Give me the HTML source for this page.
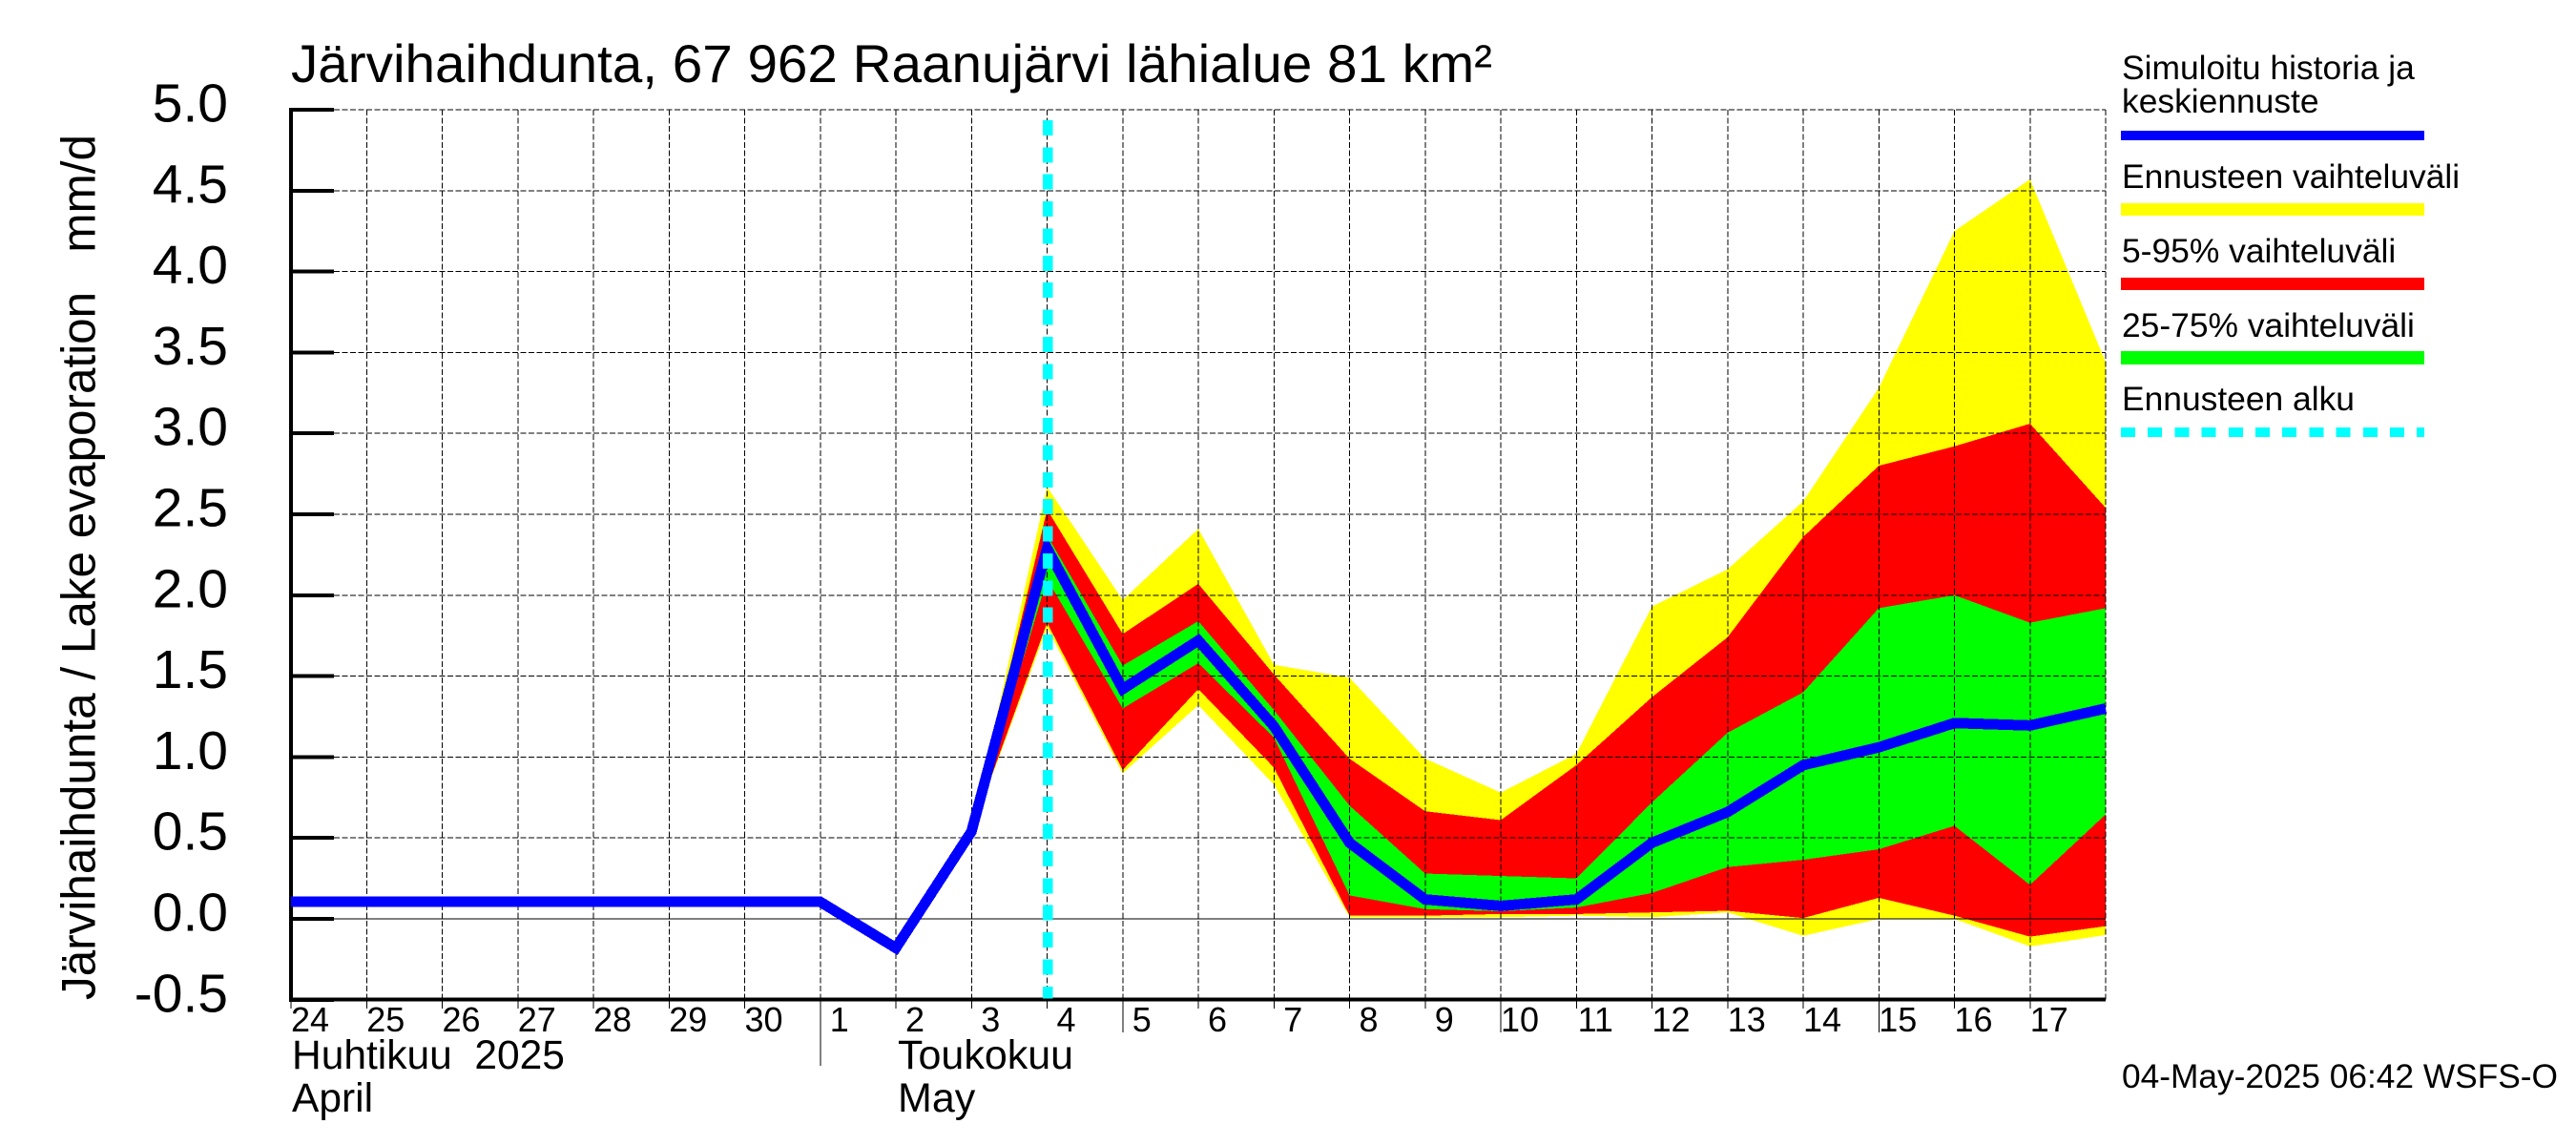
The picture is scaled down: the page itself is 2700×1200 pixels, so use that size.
<!DOCTYPE html>
<html lang="fi">
<head>
<meta charset="utf-8">
<title>Järvihaihdunta</title>
<style>
html,body{margin:0;padding:0;background:#fff;}
svg{display:block;}
text{font-family:"Liberation Sans",sans-serif;fill:#000;}
line,polygon,polyline{shape-rendering:crispEdges;}
</style>
</head>
<body>
<svg id="chart" xmlns="http://www.w3.org/2000/svg" width="2700" height="1200" viewBox="0 0 2700 1200">
<rect width="2700" height="1200" fill="#fff"/>
<text x="305" y="86" font-size="56" textLength="1259" lengthAdjust="spacingAndGlyphs">Järvihaihdunta, 67 962 Raanujärvi lähialue 81 km²</text>
<text transform="translate(99.5,1048) rotate(-90)" font-size="50" textLength="907" lengthAdjust="spacingAndGlyphs" xml:space="preserve">Järvihaihdunta / Lake evaporation   mm/d</text>
<g id="bands"></g>
<g id="grid"></g>
<g id="axes"></g>
<g id="series"></g>
<text x="306" y="1120" font-size="42.5" xml:space="preserve">Huhtikuu  2025</text>
<text x="306" y="1165" font-size="42.5">April</text>
<text x="941" y="1120" font-size="43">Toukokuu</text>
<text x="941" y="1165" font-size="43">May</text>
<g>
<text x="2224" y="83" font-size="35.4">Simuloitu historia ja</text>
<text x="2224" y="118" font-size="35.4">keskiennuste</text>
<rect x="2223" y="137" width="318" height="10" fill="#0000ff"/>
<text x="2224" y="197" font-size="35.4">Ennusteen vaihteluväli</text>
<rect x="2223" y="213" width="318" height="13" fill="#ffff00"/>
<text x="2224" y="275" font-size="35.4">5-95% vaihteluväli</text>
<rect x="2223" y="291" width="318" height="13" fill="#ff0000"/>
<text x="2224" y="353" font-size="35.4">25-75% vaihteluväli</text>
<rect x="2223" y="368" width="318" height="14" fill="#00ff00"/>
<text x="2224" y="430" font-size="35.4">Ennusteen alku</text>
<line x1="2223" y1="453" x2="2541" y2="453" stroke="#00ffff" stroke-width="10" stroke-dasharray="15 13.2"/>
</g>
<text x="2224" y="1140" font-size="35" textLength="457" lengthAdjust="spacingAndGlyphs">04-May-2025 06:42 WSFS-O</text>
</svg>
<script>
// Data (mm/d). Index 0 = 24 April, one entry per day.
const dayLabels = ["24","25","26","27","28","29","30","1","2","3","4","5","6","7","8","9","10","11","12","13","14","15","16","17"];
const yTicks = ["5.0","4.5","4.0","3.5","3.0","2.5","2.0","1.5","1.0","0.5","0.0","-0.5"];
const simulated = [0.105,0.105,0.105,0.105,0.105,0.105,0.105,0.105,-0.18,0.54,2.29,1.42,1.72,1.19,0.47,0.12,0.08,0.12,0.47,0.66,0.95,1.06,1.21,1.195,1.3];
// Forecast bands begin on 3 May (day index 9).
const bandStartDay = 9;
const rangeHigh = [0.54,2.67,1.97,2.41,1.57,1.49,0.99,0.78,1.02,1.93,2.16,2.58,3.28,4.25,4.57,3.44];
const rangeLow = [0.54,1.80,0.90,1.32,0.83,0.01,0.01,0.01,0.02,0.01,0.04,-0.105,0.0,0.0,-0.17,-0.10];
const p95 = [0.54,2.53,1.76,2.07,1.51,0.99,0.665,0.61,0.95,1.37,1.74,2.36,2.80,2.92,3.06,2.54];
const p5 = [0.54,1.83,0.92,1.42,0.935,0.02,0.02,0.03,0.03,0.04,0.05,0.005,0.13,0.02,-0.11,-0.045];
const p75 = [0.54,2.37,1.565,1.84,1.29,0.70,0.28,0.265,0.25,0.72,1.15,1.40,1.92,2.0,1.83,1.92];
const p25 = [0.54,2.10,1.30,1.58,1.12,0.145,0.06,0.047,0.07,0.16,0.32,0.365,0.43,0.575,0.21,0.645];
const forecastStartDay = 10;
const longTickDays = [11,16,21];
const monthTickDay = 7;
const lastDay = 24;

const NS = "http://www.w3.org/2000/svg";
const xScale = function (d) { return 305 + 79.25 * d; };
const yScale = function (v) { return 963 - 169.6 * v; };
const plotTop = yScale(5);
const plotBottom = 1047.5;
const bandsG = document.getElementById("bands");
const gridG = document.getElementById("grid");
const axesG = document.getElementById("axes");
const seriesG = document.getElementById("series");

function make(parent, tag, attrs) {
  const el = document.createElementNS(NS, tag);
  Object.keys(attrs).forEach(function (k) { el.setAttribute(k, attrs[k]); });
  parent.appendChild(el);
  return el;
}
function bandPoints(high, low) {
  const pts = [];
  high.forEach(function (v, i) { pts.push(xScale(bandStartDay + i) + "," + yScale(v)); });
  for (let i = low.length - 1; i >= 0; i--) { pts.push(xScale(bandStartDay + i) + "," + yScale(low[i])); }
  return pts.join(" ");
}

// Bands
const bandYellow = make(bandsG, "polygon", { points: bandPoints(rangeHigh, rangeLow), fill: "#ffff00" });


const bandRed = make(bandsG, "polygon", { points: bandPoints(p95, p5), fill: "#ff0000" });


const bandGreen = make(bandsG, "polygon", { points: bandPoints(p75, p25), fill: "#00ff00" });



// Grid and y axis ticks
yTicks.forEach(function (label) {
  const v = parseFloat(label);
  const y = yScale(v);
  if (v !== 0 && v !== -0.5) {
    const g = make(gridG, "line", { x1: 350, y1: y, x2: xScale(lastDay), y2: y, stroke: "#000", "stroke-width": 1, "stroke-dasharray": "6 2.5" });
    
    
  }
  const t = make(axesG, "line", { x1: 303, y1: y, x2: 350, y2: y, stroke: "#000", "stroke-width": 4 });
  
  
  const lab = make(axesG, "text", { x: 239, y: y + 12.5, "font-size": 57, "text-anchor": "end" });
  lab.textContent = label;
  
  
});
const zeroLine = make(gridG, "line", { x1: 305, y1: yScale(0), x2: xScale(lastDay), y2: yScale(0), stroke: "#000", "stroke-width": 1 });



// Vertical grid, x ticks and day labels
for (let d = 1; d <= lastDay; d++) {
  const g = make(gridG, "line", { x1: xScale(d), y1: plotTop, x2: xScale(d), y2: plotBottom, stroke: "#000", "stroke-width": 1, "stroke-dasharray": "6 2.5" });
  
  
}
for (let d = 0; d < lastDay; d++) {
  let end = 1057;
  if (longTickDays.indexOf(d) >= 0) { end = 1082; }
  if (d === monthTickDay) { end = 1117; }
  const t = make(axesG, "line", { x1: xScale(d), y1: plotBottom, x2: xScale(d), y2: end, stroke: "#000", "stroke-width": 1 });
  
  
  const lab = make(axesG, "text", { x: xScale(d) + 20, y: 1081, "font-size": 36, "text-anchor": "middle" });
  lab.textContent = dayLabels[d];
  
  
}
const yAxis = make(axesG, "line", { x1: 305, y1: plotTop - 2, x2: 305, y2: plotBottom + 2, stroke: "#000", "stroke-width": 4 });


const xAxis = make(axesG, "line", { x1: 303, y1: plotBottom, x2: xScale(lastDay), y2: plotBottom, stroke: "#000", "stroke-width": 4 });



// Simulated line
const simPoints = simulated.map(function (v, i) { return xScale(i) + "," + yScale(v); }).join(" ");
const simLine = make(seriesG, "polyline", { points: simPoints, fill: "none", stroke: "#0000ff", "stroke-width": 11, "stroke-linejoin": "miter", "stroke-miterlimit": 10 });



// Forecast start marker
const startX = xScale(forecastStartDay) + 0.5;
const startLine = make(seriesG, "line", { x1: startX, y1: 126, x2: startX, y2: plotBottom - 1, stroke: "#00ffff", "stroke-width": 10.5, "stroke-dasharray": "16 12.37" });


</script>
</body>
</html>
